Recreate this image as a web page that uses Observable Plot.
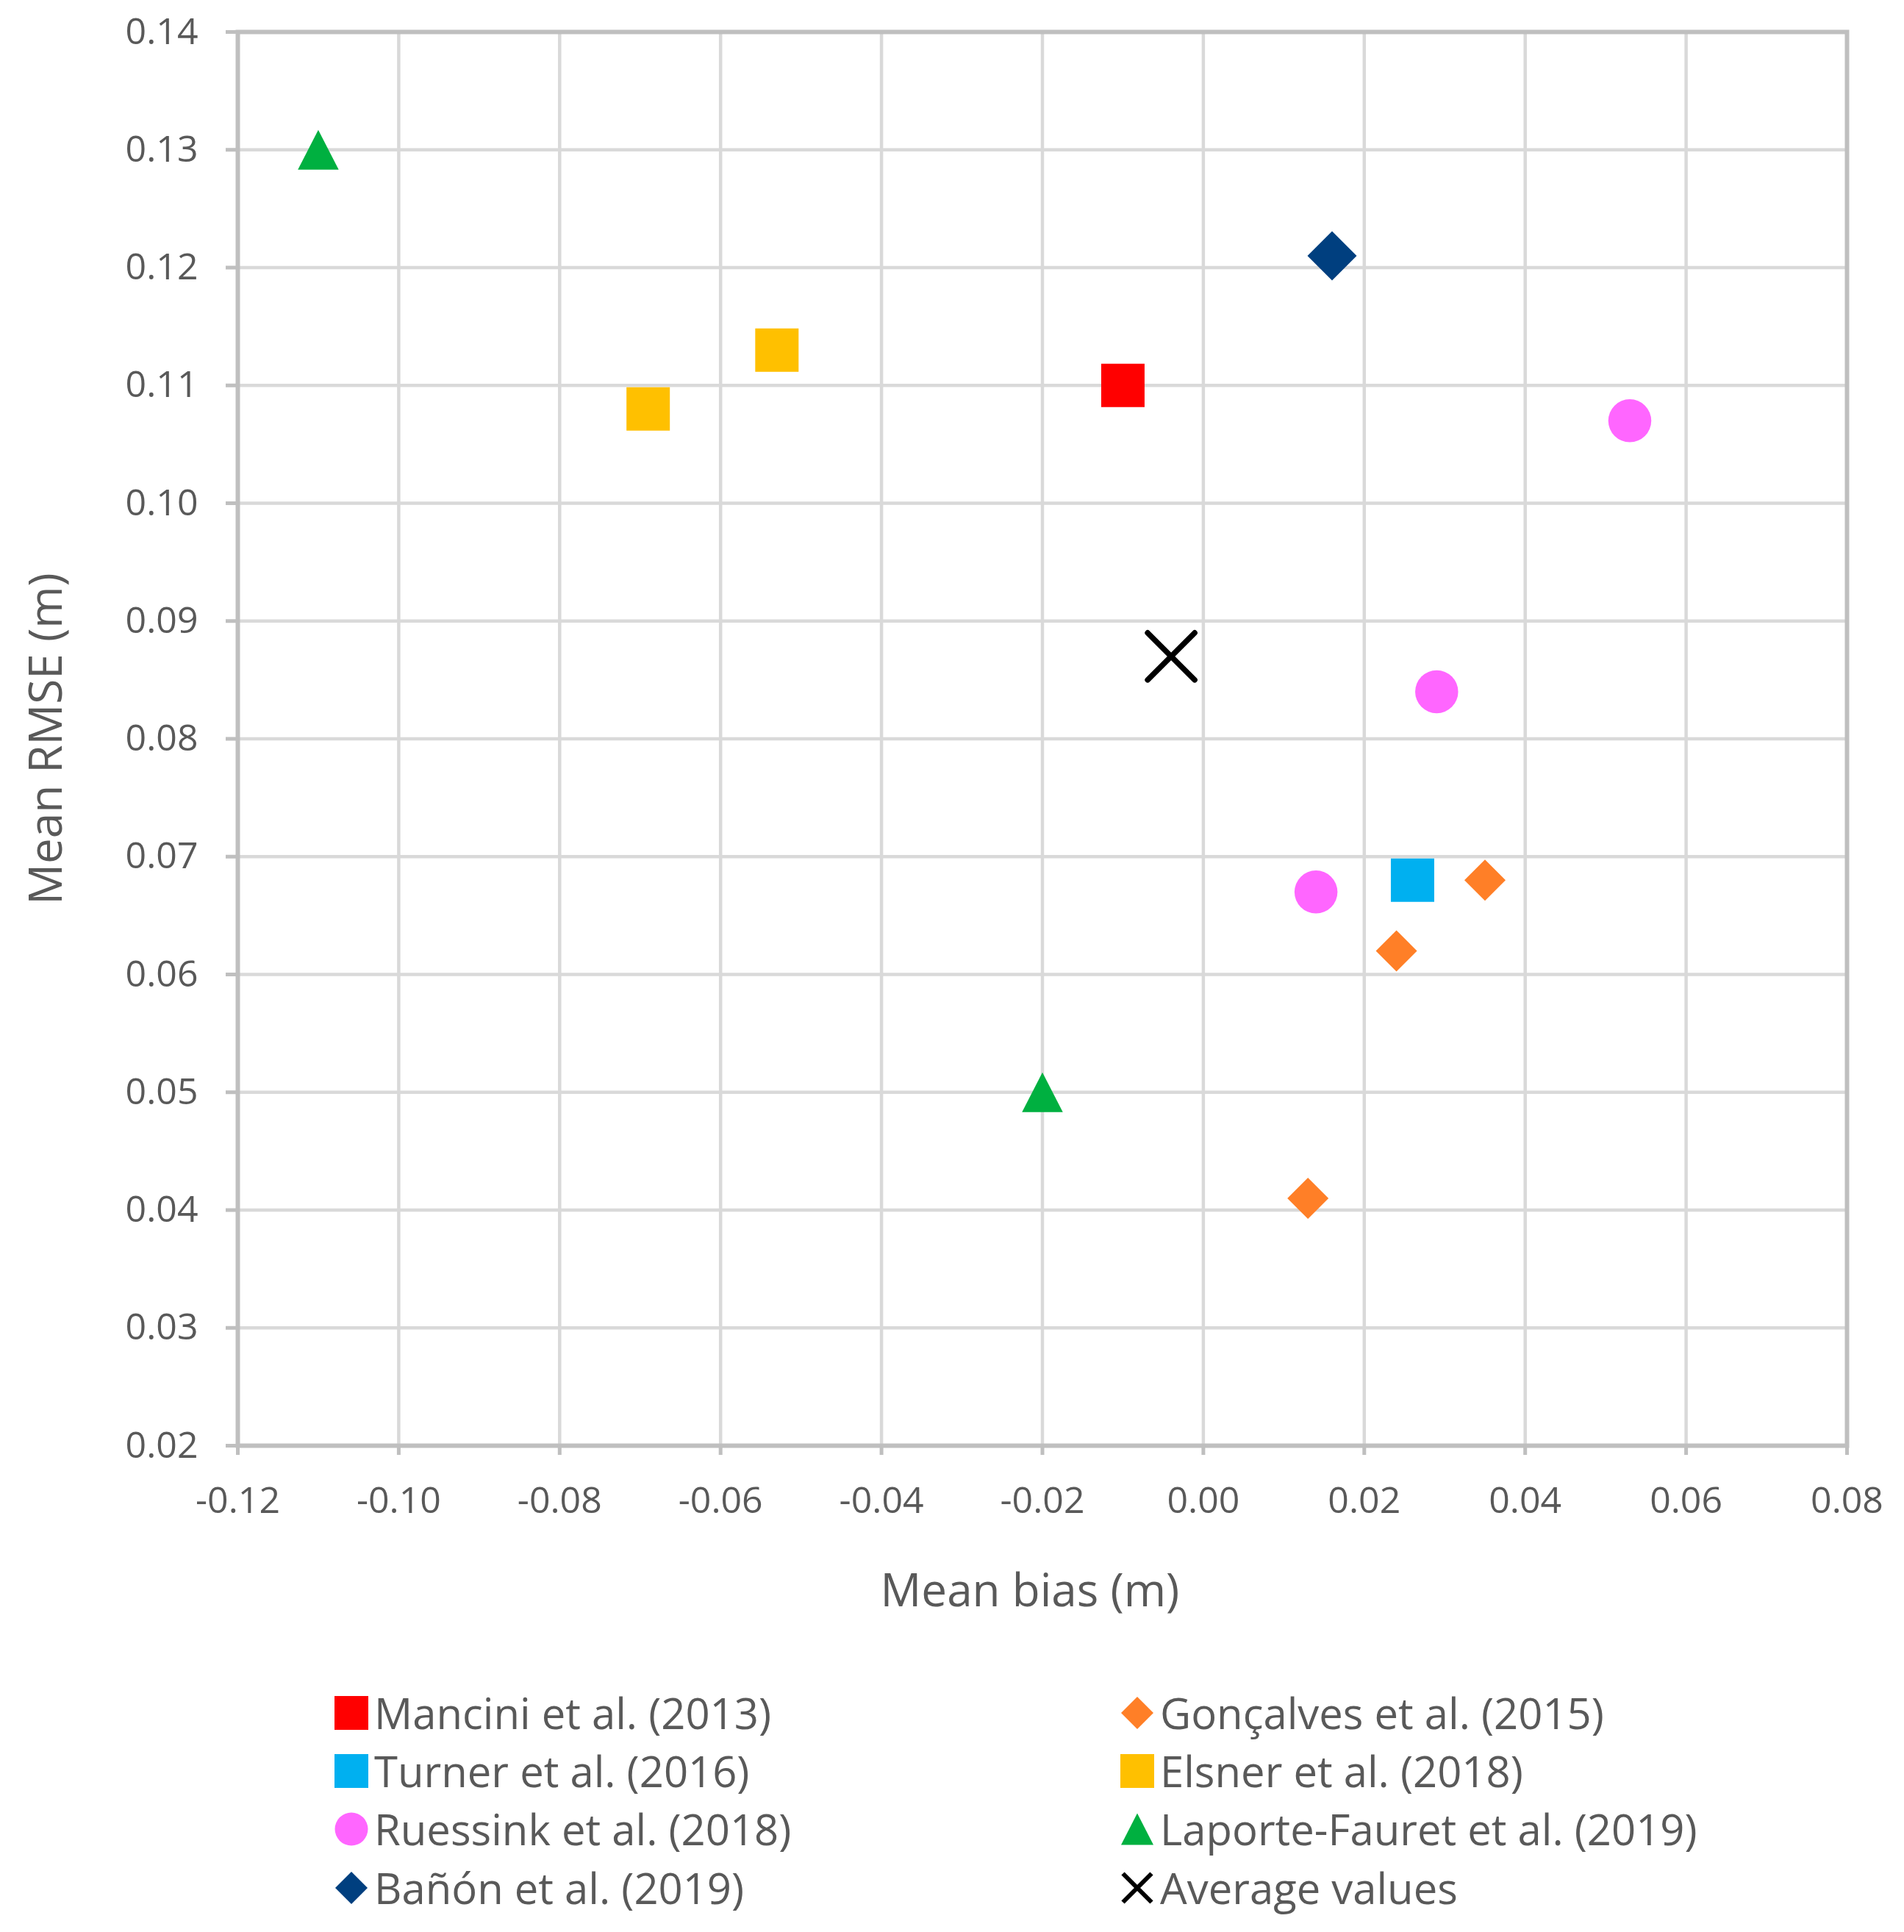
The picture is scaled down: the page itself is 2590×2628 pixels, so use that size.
<!DOCTYPE html>
<html><head><meta charset="utf-8">
<script src="https://cdn.jsdelivr.net/npm/d3@7"></script>
<script src="https://cdn.jsdelivr.net/npm/@observablehq/plot@0.6"></script>
<style>
html,body{margin:0;padding:0;background:#fff;}
#root{width:2590px;font-family:"Open Sans",sans-serif;color:#595959;}
#legend{display:grid;grid-template-columns:1069px 1000px;grid-auto-rows:79.3px;padding:60px 0 0 453px;height:338px;}
.item{display:flex;align-items:center;font-size:58px;white-space:nowrap;line-height:1;}
.item svg{margin-right:6px;flex:none;}
</style></head><body><div id="root"></div>
<script>
// ---- data ----
const studies = ["Mancini et al. (2013)", "Gonçalves et al. (2015)", "Turner et al. (2016)", "Elsner et al. (2018)",
  "Ruessink et al. (2018)", "Laporte-Fauret et al. (2019)", "Bañón et al. (2019)", "Average values"];
const pointStudy = ["Mancini et al. (2013)",
  "Gonçalves et al. (2015)", "Gonçalves et al. (2015)", "Gonçalves et al. (2015)",
  "Turner et al. (2016)",
  "Elsner et al. (2018)", "Elsner et al. (2018)",
  "Ruessink et al. (2018)", "Ruessink et al. (2018)", "Ruessink et al. (2018)",
  "Laporte-Fauret et al. (2019)", "Laporte-Fauret et al. (2019)",
  "Bañón et al. (2019)",
  "Average values"];
const meanBias = [-0.010, 0.035, 0.024, 0.013, 0.026, -0.069, -0.053, 0.053, 0.029, 0.014, -0.110, -0.020, 0.016, -0.004];
const meanRmse = [0.110, 0.068, 0.062, 0.041, 0.068, 0.108, 0.113, 0.107, 0.084, 0.067, 0.130, 0.050, 0.121, 0.087];
const xTicks = [-0.12, -0.10, -0.08, -0.06, -0.04, -0.02, 0.00, 0.02, 0.04, 0.06, 0.08];
const yTicks = [0.02, 0.03, 0.04, 0.05, 0.06, 0.07, 0.08, 0.09, 0.10, 0.11, 0.12, 0.13, 0.14];

// ---- styles ----
const studyColors = ["#FF0000", "#FF7F27", "#00B0F0", "#FFC000", "#FF66FF", "#00B040", "#003F7F", "#000000"];
const studySymbols = ["square", "diamond", "square", "square", "circle", "triangle", "diamond", "times"];
const studyR = [29.5, 28, 29.5, 29.5, 29.25, 27.75, 33.5, 32];
const legendR = [23, 22, 23, 23, 22.5, 22, 22, 19.5];

const rOf = size => Math.sqrt(size / Math.PI);
const sym = {
  square: {draw(c, size) { const r = rOf(size); c.rect(-r, -r, 2 * r, 2 * r); }},
  circle: {draw(c, size) { const r = rOf(size); c.moveTo(r, 0); c.arc(0, 0, r, 0, 2 * Math.PI); }},
  diamond: {draw(c, size) { const r = rOf(size); c.moveTo(0, -r); c.lineTo(r, 0); c.lineTo(0, r); c.lineTo(-r, 0); c.closePath(); }},
  triangle: {draw(c, size) { const r = rOf(size); const h = r * 0.973; c.moveTo(0, -h); c.lineTo(r, h); c.lineTo(-r, h); c.closePath(); }},
  times: {draw(c, size) { const r = rOf(size); c.moveTo(-r, -r); c.lineTo(r, r); c.moveTo(r, -r); c.lineTo(-r, r); }}
};

const rows = pointStudy.map((s, i) => ({study: s, bias: meanBias[i], rmse: meanRmse[i]}));

const dotMarks = studies.map((s, k) => {
  const isX = studySymbols[k] === "times";
  return Plot.dot(rows.filter(d => d.study === s), {
    x: "bias", y: "rmse", r: studyR[k], symbol: sym[studySymbols[k]],
    fill: isX ? "none" : studyColors[k],
    stroke: isX ? studyColors[k] : "none",
    strokeWidth: isX ? 7.5 : 0,
    strokeLinecap: "round"
  });
});

const fmt = d => d.toFixed(2);

const chart = Plot.plot({
  width: 2590, height: 2230,
  marginLeft: 323, marginRight: 78, marginTop: 43, marginBottom: 264,
  style: {fontFamily: '"Open Sans", sans-serif', background: "#fff", overflow: "visible"},
  x: {domain: [-0.12, 0.08], axis: null},
  y: {domain: [0.02, 0.14], axis: null},
  marks: [
    Plot.gridX(xTicks, {stroke: "#d9d9d9", strokeWidth: 4.5, strokeOpacity: 1}),
    Plot.gridY(yTicks, {stroke: "#d9d9d9", strokeWidth: 4.5, strokeOpacity: 1}),
    Plot.frame({stroke: "#bfbfbf", strokeWidth: 6}),
    Plot.axisX(xTicks, {tickSize: 13, tickPadding: 43, stroke: "#bfbfbf", strokeWidth: 5, fill: "#595959", fontSize: 50, tickFormat: fmt, label: null}),
    Plot.axisY(yTicks, {tickSize: 16, tickPadding: 38, stroke: "#bfbfbf", strokeWidth: 5, fill: "#595959", fontSize: 50, tickFormat: fmt, label: null}),
    Plot.text(["Mean bias (m)"], {frameAnchor: "bottom", dx: -17, dy: 199, lineAnchor: "middle", textAnchor: "middle", fontSize: 62, fill: "#595959"}),
    Plot.text(["Mean RMSE (m)"], {frameAnchor: "left", dx: -259, rotate: -90, lineAnchor: "middle", textAnchor: "middle", fontSize: 62, fill: "#595959"}),
    ...dotMarks
  ]
});

const root = document.getElementById("root");
root.appendChild(chart);

// ---- legend ----
const legend = document.createElement("div");
legend.id = "legend";
studies.forEach((s, k) => {
  const item = document.createElement("div");
  item.className = "item";
  const isX = studySymbols[k] === "times";
  const r = legendR[k];
  const p = d3.path();
  sym[studySymbols[k]].draw(p, Math.PI * r * r);
  const svg = d3.create("svg").attr("width", 50).attr("height", 50).attr("viewBox", "-25 -25 50 50");
  svg.append("path").attr("d", p.toString())
    .attr("fill", isX ? "none" : studyColors[k])
    .attr("stroke", isX ? studyColors[k] : "none")
    .attr("stroke-width", isX ? 6 : 0);
  item.appendChild(svg.node());
  const span = document.createElement("span");
  span.textContent = s;
  item.appendChild(span);
  legend.appendChild(item);
});
root.appendChild(legend);
</script>
</body></html>
